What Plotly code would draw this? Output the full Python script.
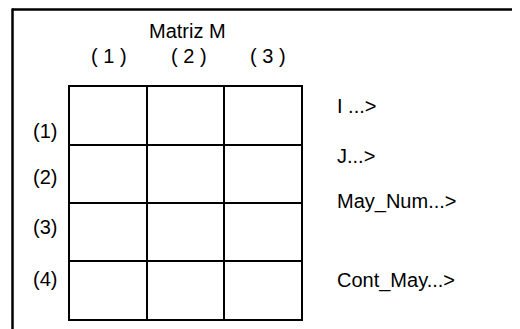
import plotly.graph_objects as go

# ---- content ----
title_text = "Matriz M"
col_labels = ["( 1 )", "( 2 )", "( 3 )"]
row_labels = ["(1)", "(2)", "(3)", "(4)"]
var_labels = ["I ...>", "J...>", "May_Num...>", "Cont_May...>"]

n_cols = len(col_labels)
n_rows = len(row_labels)

W, H = 520, 329
OFF = 8  # default page body margin in the browser
FONT = dict(family="Liberation Sans, Arial, sans-serif", size=20, color="black")

def px(x):
    return (x - OFF) / W

def py(y):
    return 1 - (y - OFF) / H

# grid placement (window pixels)
gx0, gx1 = 70, 301
gy0, gy1 = 87, 319

fig = go.Figure()

# empty (transparent) matrix cells
fig.add_trace(go.Heatmap(
    z=[[0] * n_cols for _ in range(n_rows)],
    x=list(range(n_cols)), y=list(range(n_rows)),
    colorscale=[[0, "rgba(0,0,0,0)"], [1, "rgba(0,0,0,0)"]],
    showscale=False, hoverinfo="skip",
))

axis_common = dict(
    showgrid=True, gridcolor="black", gridwidth=2,
    showline=True, mirror=True, linecolor="black", linewidth=2,
    showticklabels=False, ticks="", zeroline=False, fixedrange=True,
)
fig.update_xaxes(range=[-0.5, n_cols - 0.5],
                 tickvals=[i - 0.5 for i in range(n_cols + 1)],
                 domain=[px(gx0), px(gx1)], **axis_common)
fig.update_yaxes(range=[n_rows - 0.5, -0.5],
                 tickvals=[i - 0.5 for i in range(n_rows + 1)],
                 domain=[py(gy1), py(gy0)], **axis_common)

anns = []
anns.append(dict(text=title_text, x=px(187), y=py(31.5)))
col_x = [108.5, 188.5, 268]
for lab, x in zip(col_x and col_labels, col_x):
    anns.append(dict(text=lab, x=px(x), y=py(56)))
row_y = [130.5, 176.5, 227, 279]
for lab, y in zip(row_labels, row_y):
    anns.append(dict(text=lab, x=px(44.5), y=py(y)))
var_y = [106, 156, 201, 280]
for lab, y in zip(var_labels, var_y):
    anns.append(dict(text=lab, x=px(335), y=py(y), xanchor="left"))

for a in anns:
    a.setdefault("xanchor", "center")
    a.update(xref="paper", yref="paper", yanchor="middle",
             showarrow=False, font=FONT)

fig.update_layout(
    width=W, height=H, autosize=False,
    margin=dict(l=0, r=0, t=0, b=0),
    paper_bgcolor="white", plot_bgcolor="white",
    showlegend=False,
    annotations=anns,
    shapes=[
        dict(type="line", xref="paper", yref="paper",
             x0=px(12), x1=1.0, y0=py(9.5), y1=py(9.5),
             line=dict(color="black", width=2.5)),
        dict(type="line", xref="paper", yref="paper",
             x0=px(12.5), x1=px(12.5), y0=py(8.5), y1=0.0,
             line=dict(color="black", width=2.5)),
    ],
)

fig.write_html("out.html")
